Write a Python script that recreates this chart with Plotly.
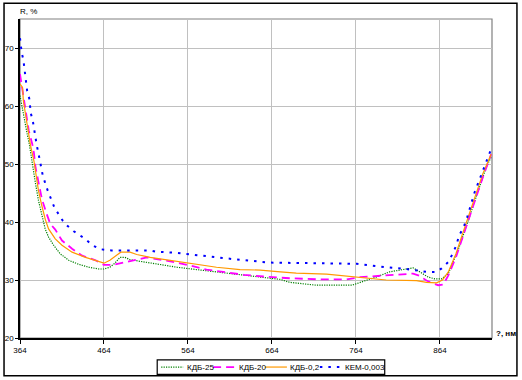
import plotly.graph_objects as go

# ---- data ----
wl_kdb25 = [364, 369, 372.5, 375, 378.5, 382.5, 386, 390, 394, 398, 404, 412, 422, 434, 446, 458, 464, 471, 477, 483,
            489, 495, 511, 531, 551, 574, 598, 626, 650, 674, 685, 717, 759, 776, 788, 804, 820, 832, 840, 850,
            858, 866, 874, 879, 887, 895, 903, 911, 919, 925]
r_kdb25 = [61.8, 57.5, 55.2, 53.5, 50.0, 46.6, 43.7, 41.1, 38.8, 37.4, 36.0, 34.5, 33.4, 32.7, 32.2, 31.9, 31.9, 32.2, 32.9, 33.9,
           33.9, 33.5, 33.1, 32.6, 32.2, 31.8, 31.4, 30.9, 30.5, 30.1, 29.6, 29.1, 29.1, 29.9, 30.5, 31.4, 31.8, 32.1, 31.4, 30.5,
           30.2, 30.2, 31.1, 32.8, 35.7, 39.1, 42.5, 46.0, 49.4, 51.2]

wl_kdb20 = [364, 366.5, 368.5, 370.5, 373, 374.5, 378.5, 380.5, 382.5, 386, 390, 395, 400, 406, 414, 426, 438, 454, 464, 475,
            491, 497, 515, 543, 555, 567, 586, 606, 630, 654, 674, 685, 721, 753, 769, 792, 816, 832, 840, 848,
            856, 862, 868, 874, 883, 891, 899, 907, 915, 925]
r_kdb20 = [65.5, 63.2, 60.9, 59.2, 57.5, 55.7, 53.5, 52.0, 49.4, 46.6, 44.0, 41.7, 39.7, 38.7, 36.8, 35.4, 34.2, 33.4, 32.6, 32.6,
           33.1, 33.4, 33.9, 33.2, 32.9, 32.5, 31.8, 31.4, 30.9, 30.6, 30.4, 30.3, 30.1, 30.1, 30.5, 30.7, 30.9, 31.1, 30.7, 29.9,
           29.4, 29.1, 29.2, 30.8, 33.9, 37.4, 40.8, 44.3, 47.7, 51.7]

wl_kdb02 = [364, 367, 368, 370.5, 372.5, 374.5, 376.5, 380.5, 383, 386, 390, 394, 398, 406, 414, 426, 442, 454, 464, 471,
            479, 484, 495, 503, 519, 539, 559, 578, 598, 626, 650, 674, 693, 729, 743, 765, 771, 792, 800, 836,
            848, 860, 867, 874, 883, 891, 899, 907, 915, 925]
r_kdb02 = [63.8, 63.2, 60.9, 58.6, 56.3, 54.6, 53.2, 50.6, 48.3, 45.4, 42.8, 40.5, 38.8, 37.1, 36.0, 34.8, 33.9, 33.4, 32.9, 33.4,
           34.2, 34.8, 34.8, 34.4, 33.9, 33.5, 33.1, 32.6, 32.2, 31.8, 31.7, 31.4, 31.2, 31.0, 30.8, 30.6, 30.5, 30.2, 30.0, 29.9,
           29.6, 29.5, 30.0, 31.4, 34.5, 38.0, 41.4, 44.8, 48.3, 51.7]

wl_kem = [364, 366, 368, 370.5, 372.5, 375, 377, 379.5, 382, 384, 386, 389.5, 391, 394, 397, 405, 409, 414.5, 420, 428,
          441.5, 450, 460, 473, 519, 525, 549, 578, 618, 661, 757, 765, 800, 824, 848, 860, 866, 868, 874, 879,
          883, 887, 892.5, 896.5, 901, 905, 910, 915, 920, 924]
r_kem = [71.7, 69.2, 68.0, 65.0, 62.6, 61.3, 58.7, 57.2, 54.6, 53.2, 51.8, 49.3, 48.1, 46.7, 45.4, 42.5, 41.6, 40.3, 39.4, 38.4,
         37.1, 36.0, 35.3, 35.1, 35.1, 34.9, 34.7, 34.2, 33.6, 33.0, 32.9, 32.8, 32.2, 31.9, 31.4, 31.4, 32.0, 32.3, 33.1, 34.5,
         35.8, 37.7, 39.2, 40.8, 43.1, 45.0, 46.9, 48.9, 50.7, 52.2]

series_names = ["КДБ-25", "КДБ-20", "КДБ-0,2", "КЕМ-0,003"]
x_ticks = [364, 464, 564, 664, 764, 864]
y_ticks = [20, 30, 40, 50, 60, 70]

FONT = "Liberation Sans, Arial, sans-serif"

styles = [
    dict(color="#008000", width=1.2, dash="1.2px,1.2px"),
    dict(color="#ff00ff", width=1.8, dash="8px,5px"),
    dict(color="#ff9900", width=1.2),
    dict(color="#0000ff", width=2, dash="2.5px,6px"),
]

fig = go.Figure()
for xs, ys, name, st in zip([wl_kdb25, wl_kdb20, wl_kdb02, wl_kem],
                            [r_kdb25, r_kdb20, r_kdb02, r_kem], series_names, styles):
    fig.add_trace(go.Scatter(x=xs, y=ys, mode="lines", name=name, line=st, showlegend=False))

L, T, B, R = 19.5, 19.3, 42.3, 29.5
W, H = 522, 380
pw = W - L - R
ph = H - T - B

def px2paper_x(px):
    return (px - L) / pw

def px2paper_y(py):
    return (H - B - py) / ph

shapes = [
    dict(type="rect", xref="paper", yref="paper", x0=0, x1=1, y0=0, y1=1,
         line=dict(color="#808080", width=1.2), layer="below"),
    dict(type="rect", xref="paper", yref="paper",
         x0=px2paper_x(3.5), x1=px2paper_x(517.5),
         y0=px2paper_y(375.5), y1=px2paper_y(3.5),
         line=dict(color="black", width=1.5), layer="below"),
    # legend box
    dict(type="rect", xref="paper", yref="paper",
         x0=px2paper_x(157), x1=px2paper_x(385),
         y0=px2paper_y(374), y1=px2paper_y(359.5),
         line=dict(color="black", width=1.2), fillcolor="white", layer="above"),
]
annotations = [
    dict(text="R, %", xref="paper", yref="paper", x=px2paper_x(17), y=px2paper_y(12),
         xanchor="left", yanchor="middle", showarrow=False,
         font=dict(family=FONT, size=8, color="black")),
    dict(text="<b>?, нм</b>", xref="paper", yref="paper", x=px2paper_x(495), y=px2paper_y(333),
         xanchor="left", yanchor="middle", showarrow=False,
         font=dict(family=FONT, size=8, color="black")),
]

# legend entries: (sample start, sample end, text start) in px
leg_pos = [(161, 183, 184.5), (213, 235, 236.5), (265, 287, 288), (320, 340, 343)]
ly = 366.7
for (s0, s1, tx), name, st in zip(leg_pos, series_names, styles):
    shapes.append(dict(type="line", xref="paper", yref="paper",
                       x0=px2paper_x(s0), x1=px2paper_x(s1),
                       y0=px2paper_y(ly), y1=px2paper_y(ly),
                       line=st, layer="above"))
    annotations.append(dict(text=name, xref="paper", yref="paper",
                            x=px2paper_x(tx), y=px2paper_y(ly),
                            xanchor="left", yanchor="middle", showarrow=False,
                            font=dict(family=FONT, size=8, color="black")))

fig.update_layout(
    width=W, height=H,
    margin=dict(l=L, r=R, t=T, b=B, pad=0, autoexpand=False),
    paper_bgcolor="white", plot_bgcolor="white",
    font=dict(family=FONT, size=8, color="black"),
    showlegend=False,
    xaxis=dict(range=[364, 926], tickvals=x_ticks, ticktext=[str(v) for v in x_ticks],
               showgrid=True, gridcolor="#c0c0c0", gridwidth=1, automargin=False,
               showline=True, linecolor="black", linewidth=1.5,
               ticks="outside", ticklen=4, tickcolor="black", tickwidth=1,
               zeroline=False, tickfont=dict(size=8, family=FONT)),
    yaxis=dict(range=[20, 75], tickvals=y_ticks, ticktext=[str(v) for v in y_ticks],
               showgrid=True, gridcolor="#c0c0c0", gridwidth=1, automargin=False,
               showline=True, linecolor="black", linewidth=1.5,
               ticks="outside", ticklen=3, tickcolor="black", tickwidth=1,
               zeroline=False, tickfont=dict(size=8, family=FONT)),
    shapes=shapes,
    annotations=annotations,
)

fig.write_html("out.html")
